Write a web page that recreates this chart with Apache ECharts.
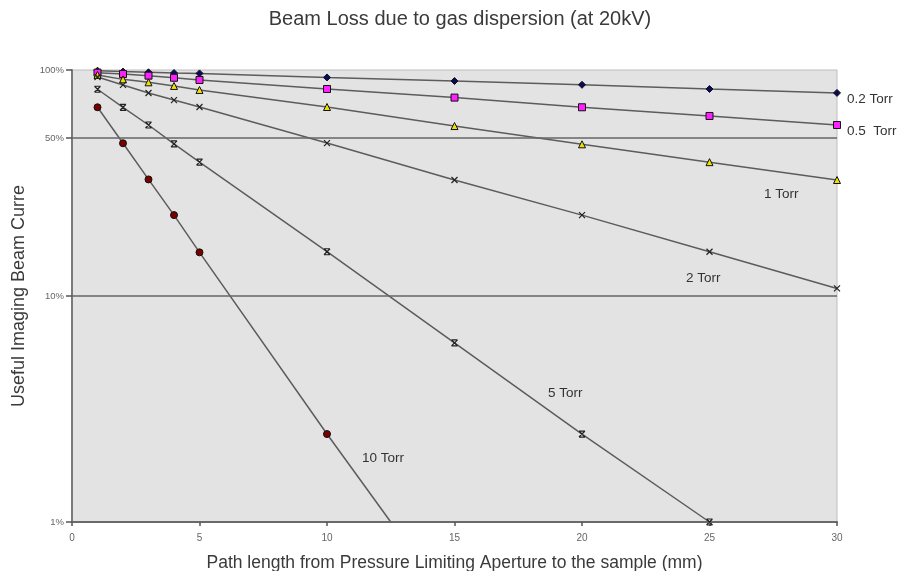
<!DOCTYPE html>
<html><head><meta charset="utf-8">
<script src="https://cdn.jsdelivr.net/npm/echarts@6/dist/echarts.min.js"></script>
<style>html,body{margin:0;padding:0;background:#fff}#c{width:901px;height:571px}</style>
</head><body><div id="c"></div>
<script>
// Path length (mm)
const xShort = [1, 2, 3, 4, 5, 10, 15, 20, 25, 30];
const x5Torr = [1, 2, 3, 4, 5, 10, 15, 20, 25];
const x10Torr = [1, 2, 3, 4, 5, 10, 12.5];
// Useful imaging beam current (%)
const torr02 = [99.3, 98.4, 97.7, 97.0, 96.6, 92.7, 89.4, 86.0, 82.4, 79.2];
const torr05 = [97.3, 96.0, 94.4, 92.4, 90.3, 82.4, 75.5, 68.4, 62.6, 57.1];
const torr1 = [95.1, 90.9, 88.2, 85.0, 81.6, 68.6, 56.5, 46.9, 39.1, 32.6];
const torr2 = [93.1, 85.9, 79.1, 73.6, 68.6, 47.5, 32.6, 22.8, 15.7, 10.8];
const torr5 = [82.2, 68.4, 57.1, 47.1, 39.1, 15.7, 6.2, 2.45, 1.0];
const torr10 = [68.4, 47.4, 32.8, 22.8, 15.6, 2.45, 1.0];
const yTicks = [1, 10, 50, 100];
const yGridValues = [10, 50];
const xTickStep = 5;

const FONT = 'Liberation Sans, Arial, sans-serif';
const pair = (xs, ys) => xs.map((x, i) => [x, ys[i]]);
const crossPath = 'path://M0,0L10,10M10,0L0,10';
const starPath = 'path://M0,0L10,10M10,0L0,10M0,0L10,0M0,10L10,10';
const lineCol = '#5c5c5c';

function mk(name, xs, ys, symbol, size, fill, extra) {
  return Object.assign({
    name, type: 'line', data: pair(xs, ys), symbol, symbolSize: size,
    showAllSymbol: true, clip: true, z: 3,
    lineStyle: { color: lineCol, width: 1.5 },
    itemStyle: { color: fill, borderColor: '#111', borderWidth: 1 },
    emphasis: { disabled: true }
  }, extra || {});
}

const s10 = mk('10 Torr', x10Torr, torr10, 'circle', 7, '#7a0000');
s10.data[s10.data.length - 1] = { value: s10.data[s10.data.length - 1], symbol: 'none' };

const lbl = (text, left, top) => ({ type: 'text', left, top, style: { text, fontSize: 13.5, fill: '#333', fontFamily: FONT } });

const chart = echarts.init(document.getElementById('c'), null, { renderer: 'canvas' });
chart.setOption({
  animation: false,
  backgroundColor: '#ffffff',
  textStyle: { fontFamily: FONT },
  title: {
    text: 'Beam Loss due to gas dispersion (at 20kV)', left: 455, top: 4, textAlign: 'center',
    textStyle: { fontSize: 20, fontWeight: 'normal', color: '#3a3a3a', fontFamily: FONT }
  },
  grid: { left: 72, right: 64, top: 70, bottom: 49, outerBoundsMode: 'none', containLabel: false, show: true, backgroundColor: '#e3e3e3', borderColor: '#bdbdbd', borderWidth: 1 },
  xAxis: {
    type: 'value', min: 0, max: 30, interval: xTickStep,
    name: 'Path length from Pressure Limiting Aperture to the sample (mm)',
    nameLocation: 'middle', nameGap: 32,
    nameTextStyle: { fontSize: 17.5, color: '#3a3a3a' },
    axisLine: { show: true, onZero: false, lineStyle: { color: '#6a6a6a', width: 2 } },
    axisTick: { show: true, inside: false, length: 4, lineStyle: { color: '#555', width: 1.5 } },
    axisLabel: { fontSize: 10, color: '#666', margin: 11 },
    splitLine: { show: false }
  },
  yAxis: {
    type: 'log', logBase: 10, min: 1, max: 100,
    name: 'Useful Imaging Beam Curre', nameLocation: 'middle', nameGap: 44,
    nameTextStyle: { fontSize: 18, color: '#3a3a3a' },
    axisLine: { show: true, lineStyle: { color: '#7a7a7a', width: 2 } },
    axisTick: { show: true, length: 6, customValues: yTicks, lineStyle: { color: '#555', width: 1.5 } },
    axisLabel: { fontSize: 9.5, color: '#666', margin: 8, customValues: yTicks, formatter: v => v + '%' },
    splitLine: { show: false }, minorSplitLine: { show: false }
  },
  series: [
    mk('0.2 Torr', xShort, torr02, 'diamond', 7, '#0a0a5c', {
      markLine: {
        silent: true, symbol: 'none', label: { show: false },
        lineStyle: { color: '#666', width: 1.5, type: 'solid' },
        data: yGridValues.map(v => ({ yAxis: v }))
      }
    }),
    mk('0.5 Torr', xShort, torr05, 'rect', 7, '#ff20ff'),
    mk('1 Torr', xShort, torr1, 'triangle', 7, '#f0e000'),
    mk('2 Torr', xShort, torr2, crossPath, 6, 'none', { itemStyle: { color: 'none', borderColor: '#222', borderWidth: 1.2 } }),
    mk('5 Torr', x5Torr, torr5, starPath, 6, 'none', { itemStyle: { color: 'none', borderColor: '#222', borderWidth: 1.2 } }),
    s10
  ],
  graphic: [
    lbl('0.2 Torr', 847, 92),
    lbl('0.5  Torr', 847, 124),
    lbl('1 Torr', 764, 187),
    lbl('2 Torr', 686, 271),
    lbl('5 Torr', 548, 386),
    lbl('10 Torr', 362, 451)
  ]
});
</script></body></html>
